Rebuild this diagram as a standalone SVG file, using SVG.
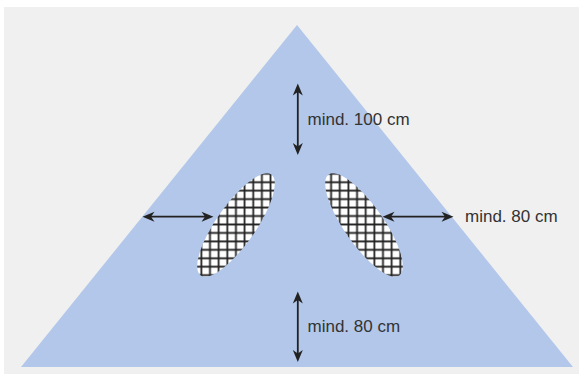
<svg xmlns="http://www.w3.org/2000/svg" width="579" height="374" viewBox="0 0 579 374">
  <style>
    .bg { fill: #f0f0f0; }
    .area { fill: #b2c7e9; }
    .opening { fill: url(#grid); }
    .dim { stroke: #222; stroke-width: 1.8; fill: none; marker-start: url(#ah); marker-end: url(#ah); }
    .lbl { font-family: "Liberation Sans", Arial, sans-serif; font-size: 17px; fill: #333; }
  </style>
  <defs>
    <pattern id="grid" patternUnits="userSpaceOnUse" x="223" y="178" width="8.65" height="8.45">
      <rect width="8.65" height="8.45" fill="#fff"/>
      <path d="M4.3 0 V8.45 M0 4.2 H8.65" stroke="#222" stroke-width="1.8"/>
    </pattern>
    <marker id="ah" markerUnits="userSpaceOnUse" orient="auto-start-reverse" viewBox="-13 -6 14 12" markerWidth="14" markerHeight="12" refX="-5" refY="0">
      <path d="M0 0 L-12 -5 L-8.5 0 L-12 5 Z" fill="#222"/>
    </marker>
  </defs>

  <rect class="bg" x="4" y="7" width="575" height="367"/>

  <g id="area">
    <polygon class="area" points="297,25 21,367 573,367"/>
  </g>

  <g id="opening-left">
    <path class="opening" d="M200.73 275.38 A61.5 19.5 -55 1 1 271.27 174.62 A61.5 19.5 -55 1 1 200.73 275.38 Z"/>
  </g>
  <g id="opening-right">
    <path class="opening" d="M328.73 174.62 A61.5 19.5 55 1 1 399.27 275.38 A61.5 19.5 55 1 1 328.73 174.62 Z"/>
  </g>

  <g id="connectors">
    <line class="dim" x1="297.8" y1="88.5" x2="297.8" y2="150"/>
    <line class="dim" x1="147.5" y1="216.7" x2="208.5" y2="216.7"/>
    <line class="dim" x1="387.5" y1="216.7" x2="448.5" y2="216.7"/>
    <line class="dim" x1="297.8" y1="296.5" x2="297.8" y2="357"/>
  </g>

  <g id="label-top">
    <text class="lbl" x="307.5" y="125">mind. 100 cm</text>
  </g>
  <g id="label-right">
    <text class="lbl" x="465" y="222.3">mind. 80 cm</text>
  </g>
  <g id="label-bottom">
    <text class="lbl" x="307.5" y="332">mind. 80 cm</text>
  </g>
</svg>
